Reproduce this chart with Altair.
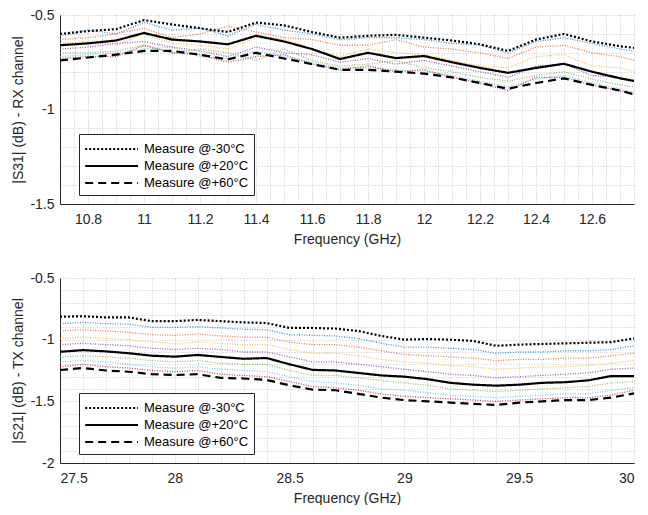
import altair as alt
import pandas as pd

FONT = "Liberation Sans"
TXT = "#262626"

# ---------------- RX channel (top panel) ----------------
rx_freq = [10.7, 10.8, 10.9, 11.0, 11.1, 11.2, 11.3, 11.4, 11.5, 11.6, 11.7,
           11.8, 11.9, 12.0, 12.1, 12.2, 12.3, 12.4, 12.5, 12.6, 12.7, 12.75]
rx_m30 = [-0.60, -0.585, -0.575, -0.527, -0.55, -0.57, -0.59, -0.54, -0.555, -0.59, -0.62,
          -0.61, -0.605, -0.62, -0.635, -0.655, -0.69, -0.63, -0.60, -0.64, -0.665, -0.674]
rx_p20 = [-0.66, -0.65, -0.635, -0.595, -0.63, -0.64, -0.655, -0.61, -0.64, -0.68, -0.733,
          -0.70, -0.728, -0.717, -0.75, -0.78, -0.806, -0.78, -0.758, -0.80, -0.835, -0.849]
rx_p60 = [-0.74, -0.725, -0.71, -0.69, -0.69, -0.71, -0.735, -0.70, -0.73, -0.76, -0.79,
          -0.79, -0.80, -0.81, -0.83, -0.86, -0.89, -0.86, -0.835, -0.87, -0.90, -0.92]
rx_m20 = [-0.61, -0.58, -0.60, -0.54, -0.58, -0.57, -0.61, -0.55, -0.58, -0.60, -0.63,
          -0.62, -0.62, -0.63, -0.65, -0.66, -0.70, -0.64, -0.62, -0.65, -0.68, -0.69]
rx_m10 = [-0.63, -0.62, -0.60, -0.57, -0.62, -0.60, -0.56, -0.59, -0.62, -0.63, -0.66,
          -0.66, -0.63, -0.67, -0.68, -0.70, -0.73, -0.67, -0.66, -0.70, -0.72, -0.74]
rx_0 = [-0.65, -0.64, -0.66, -0.60, -0.65, -0.66, -0.68, -0.62, -0.63, -0.68, -0.72,
        -0.68, -0.70, -0.71, -0.74, -0.77, -0.78, -0.72, -0.71, -0.77, -0.78, -0.80]
rx_p10 = [-0.68, -0.67, -0.65, -0.64, -0.67, -0.69, -0.72, -0.67, -0.70, -0.71, -0.75,
          -0.73, -0.76, -0.74, -0.77, -0.80, -0.83, -0.77, -0.76, -0.82, -0.83, -0.85]
rx_p30 = [-0.70, -0.70, -0.69, -0.66, -0.70, -0.68, -0.70, -0.74, -0.68, -0.74, -0.77,
          -0.76, -0.74, -0.78, -0.80, -0.83, -0.85, -0.82, -0.80, -0.84, -0.87, -0.88]
rx_p40 = [-0.72, -0.71, -0.70, -0.68, -0.67, -0.72, -0.73, -0.69, -0.72, -0.75, -0.78,
          -0.78, -0.79, -0.80, -0.82, -0.85, -0.88, -0.84, -0.82, -0.86, -0.89, -0.91]
rx_p50 = [-0.73, -0.72, -0.72, -0.66, -0.70, -0.71, -0.75, -0.72, -0.71, -0.76, -0.79,
          -0.77, -0.80, -0.79, -0.83, -0.86, -0.90, -0.83, -0.83, -0.87, -0.90, -0.92]

# ---------------- TX channel (bottom panel) ----------------
tx_freq = [27.5, 27.6, 27.7, 27.8, 27.9, 28.0, 28.1, 28.2, 28.3, 28.4, 28.5, 28.6, 28.7,
           28.8, 28.9, 29.0, 29.1, 29.2, 29.3, 29.4, 29.5, 29.6, 29.7, 29.8, 29.9, 30.0]
tx_m30 = [-0.814, -0.81, -0.82, -0.82, -0.85, -0.85, -0.84, -0.85, -0.86, -0.865, -0.905, -0.905, -0.91,
          -0.93, -0.97, -1.0, -0.995, -1.0, -1.01, -1.05, -1.04, -1.035, -1.03, -1.025, -1.02, -0.99]
tx_p20 = [-1.098, -1.085, -1.095, -1.11, -1.13, -1.138, -1.124, -1.14, -1.155, -1.149, -1.20, -1.245, -1.25,
          -1.27, -1.29, -1.30, -1.32, -1.35, -1.365, -1.373, -1.365, -1.35, -1.345, -1.33, -1.295, -1.295]
tx_p60 = [-1.246, -1.23, -1.25, -1.26, -1.28, -1.287, -1.28, -1.31, -1.315, -1.327, -1.37, -1.405, -1.41,
          -1.44, -1.47, -1.49, -1.50, -1.51, -1.52, -1.53, -1.51, -1.50, -1.49, -1.49, -1.47, -1.435]
tx_m20 = [-0.87, -0.86, -0.87, -0.875, -0.90, -0.90, -0.895, -0.905, -0.915, -0.92, -0.96, -0.965, -0.97,
          -0.99, -1.03, -1.06, -1.06, -1.07, -1.08, -1.11, -1.10, -1.10, -1.09, -1.09, -1.08, -1.05]
tx_m10 = [-0.93, -0.92, -0.93, -0.94, -0.96, -0.965, -0.955, -0.97, -0.98, -0.98, -1.02, -1.04, -1.04,
          -1.06, -1.09, -1.12, -1.13, -1.14, -1.15, -1.17, -1.16, -1.16, -1.15, -1.15, -1.13, -1.11]
tx_0 = [-0.99, -0.98, -0.99, -1.0, -1.02, -1.03, -1.02, -1.03, -1.04, -1.04, -1.08, -1.11, -1.11,
        -1.13, -1.16, -1.18, -1.19, -1.21, -1.22, -1.24, -1.23, -1.22, -1.22, -1.21, -1.19, -1.17]
tx_p10 = [-1.04, -1.03, -1.04, -1.05, -1.07, -1.08, -1.07, -1.08, -1.10, -1.10, -1.14, -1.18, -1.18,
          -1.20, -1.22, -1.24, -1.26, -1.28, -1.29, -1.31, -1.30, -1.29, -1.28, -1.27, -1.24, -1.23]
tx_p30 = [-1.14, -1.13, -1.14, -1.15, -1.17, -1.18, -1.17, -1.19, -1.20, -1.20, -1.25, -1.29, -1.29,
          -1.31, -1.33, -1.35, -1.37, -1.40, -1.41, -1.42, -1.41, -1.40, -1.39, -1.38, -1.35, -1.34]
tx_p40 = [-1.18, -1.17, -1.18, -1.20, -1.22, -1.23, -1.22, -1.24, -1.25, -1.26, -1.30, -1.34, -1.35,
          -1.37, -1.40, -1.41, -1.43, -1.45, -1.46, -1.47, -1.46, -1.45, -1.44, -1.44, -1.41, -1.39]
tx_p50 = [-1.22, -1.20, -1.22, -1.23, -1.25, -1.26, -1.25, -1.28, -1.29, -1.30, -1.34, -1.38, -1.39,
          -1.41, -1.44, -1.46, -1.47, -1.48, -1.49, -1.50, -1.49, -1.48, -1.47, -1.47, -1.45, -1.41]

legend_labels = ["Measure @-30°C", "Measure @+20°C", "Measure @+60°C"]
mid_labels = ["-20", "-10", "0", "+10", "+30", "+40", "+50"]
mid_colors = ["#0072BD", "#D95319", "#EDB120", "#7E2F8E", "#77AC30", "#4DBEEE", "#A2142F"]

rx_x_ticks = [round(10.7 + 0.05 * i, 2) for i in range(42)]
rx_y_ticks = [round(-1.5 + 0.1 * i, 1) for i in range(11)]
tx_x_ticks = [round(27.5 + 0.1 * i, 1) for i in range(26)]
tx_y_ticks = [round(-2.0 + 0.1 * i, 1) for i in range(16)]


def panel(freq, mains, mids, xdom, ydom, xticks, yticks, xmod, ytitle, h, ly):
    main_rows = []
    for lab, vals in zip(legend_labels, mains):
        for f, v in zip(freq, vals):
            main_rows.append({"freq": f, "val": v, "series": lab})
    mid_rows = []
    for lab, vals in zip(mid_labels, mids):
        for f, v in zip(freq, vals):
            mid_rows.append({"freq": f, "val": v, "temp": lab})
    mdf = pd.DataFrame(main_rows)
    idf = pd.DataFrame(mid_rows)

    x = alt.X("freq:Q", scale=alt.Scale(domain=xdom, nice=False, zero=False),
              axis=alt.Axis(values=xticks, title="Frequency (GHz)",
                            labelExpr=f"round(datum.value*{xmod[0]})%{xmod[1]}==0 ? ''+datum.value : ''"))
    y = alt.Y("val:Q", scale=alt.Scale(domain=ydom, nice=False, zero=False),
              axis=alt.Axis(values=yticks, title=ytitle,
                            labelExpr="round(datum.value*10)%5==0 ? ''+datum.value : ''"))

    mid = alt.Chart(idf).mark_line(strokeWidth=1.3, strokeDash=[1, 1.5], opacity=0.75).encode(
        x=x, y=y,
        color=alt.Color("temp:N", scale=alt.Scale(domain=mid_labels, range=mid_colors), legend=None),
        detail="temp:N",
    )
    main = alt.Chart(mdf).mark_line(color="black", strokeWidth=2.2).encode(
        x=x, y=y,
        strokeDash=alt.StrokeDash(
            "series:N",
            scale=alt.Scale(domain=legend_labels, range=[[2, 2], [1, 0], [8, 5]]),
            legend=alt.Legend(orient="none", legendX=19, legendY=ly, title=None,
                              fillColor="white", strokeColor=TXT, padding=5,
                              symbolType="M-1,0H5", symbolSize=310, symbolStrokeWidth=2.2,
                              symbolStrokeColor="black", labelFont=FONT, labelFontSize=13,
                              labelColor="black", rowPadding=0, labelOffset=40,
                              labelLimit=300),
        ),
        detail="series:N",
    )
    return alt.layer(mid, main).properties(width=574, height=h)


top = panel(rx_freq, [rx_m30, rx_p20, rx_p60],
            [rx_m20, rx_m10, rx_0, rx_p10, rx_p30, rx_p40, rx_p50],
            [10.7, 12.75], [-1.5, -0.5], rx_x_ticks, rx_y_ticks, (20, 4),
            "|S31| (dB) - RX channel", 189, 119)
bottom = panel(tx_freq, [tx_m30, tx_p20, tx_p60],
               [tx_m20, tx_m10, tx_0, tx_p10, tx_p30, tx_p40, tx_p50],
               [27.5, 30.0], [-2.0, -0.5], tx_x_ticks, tx_y_ticks, (10, 5),
               "|S21| (dB) - TX channel", 185, 115)

chart = alt.vconcat(top, bottom, spacing=25).resolve_scale(
    strokeDash="independent", color="independent", x="independent", y="independent"
).resolve_legend(strokeDash="independent").properties(
    padding={"left": 3, "top": 0, "right": 0, "bottom": 0}
).configure_view(stroke=None).configure_axis(
    labelFont=FONT, labelFontSize=14, labelColor=TXT,
    titleFont=FONT, titleFontSize=14, titleFontWeight="normal", titleColor=TXT,
    domainColor=TXT, domainWidth=1, tickSize=0, labelPadding=8,
    gridColor="#c4c4c4", gridDash=[1, 2], gridWidth=1,
).configure_axisX(titlePadding=6).configure_axisY(titlePadding=4, labelPadding=6)

chart.save("out.html", embed_options={"renderer": "svg", "actions": False})
